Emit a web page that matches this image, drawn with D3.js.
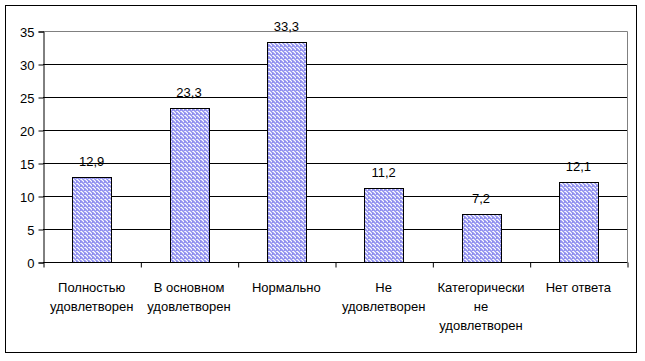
<!DOCTYPE html>
<html>
<head>
<meta charset="utf-8">
<script src="https://cdn.jsdelivr.net/npm/d3@7"></script>
<style>
  body { margin: 0; background: #fff; }
  text { font-family: "Liberation Sans", Arial, sans-serif; font-size: 13px; fill: #000; }
</style>
</head>
<body>
<div id="chart"></div>
<script>
var categories = [
  ["Полностью", "удовлетворен"],
  ["В основном", "удовлетворен"],
  ["Нормально"],
  ["Не", "удовлетворен"],
  ["Категорически", "не", "удовлетворен"],
  ["Нет ответа"]
];
var values = [12.9, 23.3, 33.3, 11.2, 7.2, 12.1];
var valueLabels = ["12,9", "23,3", "33,3", "11,2", "7,2", "12,1"];
var yTicks = [0, 5, 10, 15, 20, 25, 30, 35];

var W = 645, H = 361;
var pLeft = 43, pRight = 627, pTop = 31, pBottom = 262;

var svg = d3.select("#chart").append("svg").attr("width", W).attr("height", H);

// hatch fill
var pat = svg.append("defs").append("pattern")
    .attr("id", "hatch").attr("patternUnits", "userSpaceOnUse")
    .attr("width", 4).attr("height", 4);
pat.append("rect").attr("width", 4).attr("height", 4).attr("fill", "#fff");
pat.append("path").attr("d", "M-1,1 l2,2 M0,0 l4,4 M3,-1 l2,2")
    .attr("stroke", "#8f8fef").attr("stroke-width", 1.6);

// outer frame
svg.append("rect").attr("x", 5.5).attr("y", 5.5).attr("width", 631).attr("height", 347)
    .attr("fill", "none").attr("stroke", "#000");

var x = d3.scaleBand().domain(d3.range(categories.length)).range([pLeft, pRight]).paddingInner(0).paddingOuter(0);
var y = d3.scaleLinear().domain([0, 35]).range([pBottom, pTop]);

// gridlines
svg.append("g").selectAll("line").data(yTicks.filter(function (d) { return d > 0 && d < 35; }))
  .enter().append("line")
    .attr("x1", pLeft).attr("x2", pRight)
    .attr("y1", function (d) { return Math.round(y(d)) + 0.5; })
    .attr("y2", function (d) { return Math.round(y(d)) + 0.5; })
    .attr("stroke", "#000");

// plot border (top and right in gray)
svg.append("path")
    .attr("d", "M" + pLeft + "," + (pTop + 0.5) + "H" + (pRight + 0.5) + "V" + pBottom)
    .attr("fill", "none").attr("stroke", "#808080");

// bars
var bw = x.bandwidth() * 0.4;
svg.append("g").selectAll("rect").data(values).enter().append("rect")
    .attr("x", function (d, i) { return Math.round(x(i) + (x.bandwidth() - bw) / 2) + 0.5; })
    .attr("y", function (d) { return Math.round(y(d)) + 0.5; })
    .attr("width", Math.round(bw))
    .attr("height", function (d) { return Math.round(y(0)) - Math.round(y(d)); })
    .attr("fill", "url(#hatch)").attr("stroke", "#000");

// value labels
svg.append("g").selectAll("text").data(values).enter().append("text")
    .attr("x", function (d, i) { return x(i) + x.bandwidth() / 2; })
    .attr("y", function (d) { return y(d) - 11; })
    .attr("text-anchor", "middle")
    .text(function (d, i) { return valueLabels[i]; });

// y axis
var yAxis = d3.axisLeft(y).tickValues(yTicks).tickSize(5).tickPadding(4).tickFormat(d3.format("d"));
var gy = svg.append("g").attr("transform", "translate(" + (pLeft + 0.5) + ",0.5)").call(yAxis);
gy.select(".domain").attr("stroke", "#000");
gy.selectAll("text").style("font-family", "'Liberation Sans', Arial, sans-serif").style("font-size", "13px").attr("dy", "0.35em");

// x axis
var xb = d3.scaleLinear().domain([0, categories.length]).range([pLeft, pRight]);
var gx = svg.append("g").attr("transform", "translate(0," + (Math.round(pBottom) + 0.5) + ")")
    .call(d3.axisBottom(xb).ticks(categories.length).tickSize(5).tickFormat(""));
gx.select(".domain").attr("d", "M" + pLeft + ",0H" + (pRight + 0.5)).attr("stroke", "#000");
gx.selectAll(".tick line").attr("transform", "translate(0.5,0)");

// category labels
var lab = svg.append("g").selectAll("text").data(categories).enter().append("text")
    .attr("text-anchor", "middle")
    .attr("x", function (d, i) { return x(i) + x.bandwidth() / 2; })
    .attr("y", 292);
lab.selectAll("tspan").data(function (d) { return d; }).enter().append("tspan")
    .attr("x", function () { return d3.select(this.parentNode).attr("x"); })
    .attr("dy", function (d, i) { return i === 0 ? 0 : 19; })
    .text(function (d) { return d; });
</script>
</body>
</html>
